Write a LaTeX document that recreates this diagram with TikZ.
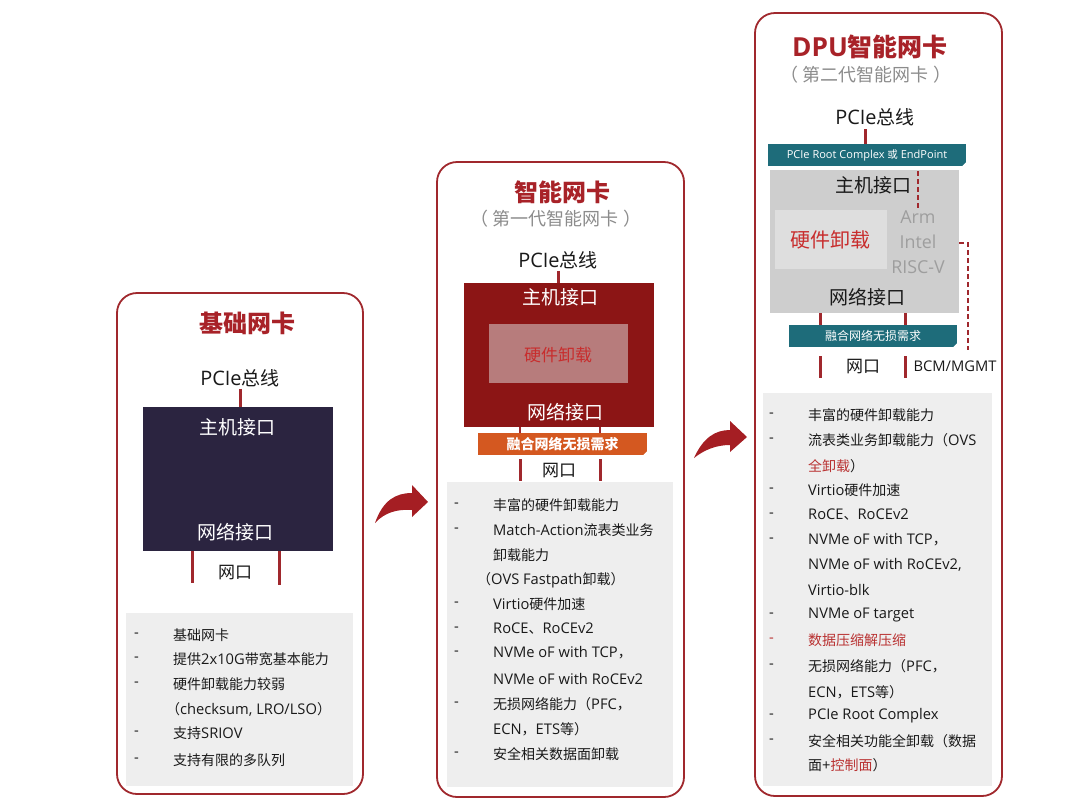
\documentclass[tikz,border=0pt]{standalone}
\usepackage{fontspec}
\setmainfont[Scale=1.05]{Open Sans}
\newfontfamily\cjkfam{Noto Sans CJK SC}
\newfontfamily\latfam[Scale=1.05]{Open Sans}
\XeTeXinterchartokenstate=1
\newXeTeXintercharclass\cjkcls
\newcount\cjkcc
\cjkcc="3000
\loop \XeTeXcharclass\cjkcc=\cjkcls \ifnum\cjkcc<"303F \advance\cjkcc by 1 \repeat
\cjkcc="4E00
\loop \XeTeXcharclass\cjkcc=\cjkcls \ifnum\cjkcc<"9FFF \advance\cjkcc by 1 \repeat
\cjkcc="FF00
\loop \XeTeXcharclass\cjkcc=\cjkcls \ifnum\cjkcc<"FFEF \advance\cjkcc by 1 \repeat
\XeTeXinterchartoks 0 \cjkcls = {\cjkfam}
\XeTeXinterchartoks 4095 \cjkcls = {\cjkfam}
\XeTeXinterchartoks \cjkcls 0 = {\latfam}
\XeTeXinterchartoks \cjkcls 4095 = {\latfam}
\definecolor{frame}{RGB}{160,40,45}
\definecolor{titred}{RGB}{168,34,40}
\definecolor{navy}{RGB}{43,36,64}
\definecolor{maroon}{RGB}{140,21,21}
\definecolor{pinkbox}{RGB}{183,124,124}
\definecolor{offred}{RGB}{200,45,45}
\definecolor{orangeb}{RGB}{212,88,32}
\definecolor{tealb}{RGB}{30,108,122}
\definecolor{chip}{RGB}{206,206,206}
\definecolor{chipin}{RGB}{222,222,222}
\definecolor{listbg}{RGB}{238,238,238}
\definecolor{subgray}{RGB}{140,140,140}
\definecolor{cpugray}{RGB}{158,158,158}
\definecolor{hl}{RGB}{185,50,50}
\definecolor{arrowred}{RGB}{165,30,35}
\definecolor{ink}{RGB}{25,25,25}
\begin{document}
\begin{tikzpicture}[x=1pt,y=-1pt,
 panel/.style={draw=frame,line width=1.8pt,rounded corners=20pt,inner sep=0pt,fill=white},
 rect/.style={inner sep=0pt,draw=none},
 title/.style={text=titred,font=\fontsize{24}{28}\selectfont\bfseries,inner sep=0pt},
 subtitle/.style={text=subgray,font=\fontsize{18}{21}\selectfont,inner sep=0pt},
 bus/.style={text=ink,font=\fontsize{19}{22}\selectfont,inner sep=2pt},
 lbl/.style={font=\fontsize{19}{22}\selectfont,inner sep=0pt},
 tick/.style={draw=frame,line width=3pt},
 dashline/.style={draw=frame,line width=1.6pt,dash pattern=on 5pt off 3pt},
 li/.style={anchor=west,text=ink,font=\fontsize{14}{16}\selectfont,inner sep=0pt},
 dashmark/.style={anchor=west,text=ink,font=\fontsize{14}{16}\selectfont,inner sep=0pt},
 bandtext/.style={text=white,inner sep=0pt}
]
\useasboundingbox[fill=white] (0,0) rectangle (1080,812);

% ---------- panel A ----------
\node[panel,minimum width=246pt,minimum height=501pt] (panA) at (240,543.5) {};
\node[title] (titA) at (247,323) {基础网卡};
\node[bus] (pcieA) at (240,378) {PCIe总线};
\node[rect,fill=navy,minimum width=190pt,minimum height=144pt] (boxA) at (238,479) {};
\node[lbl,text=white] (hostA) at (237,427) {主机接口};
\node[lbl,text=white] (netA) at (235,532) {网络接口};
\draw[tick] (pcieA.south) -- (pcieA.south |- boxA.north);
\coordinate (pAl) at (192,583);
\coordinate (pAr) at (279,585);
\draw[tick] (pAl |- boxA.south) -- (pAl);
\draw[tick] (pAr |- boxA.south) -- (pAr);
\node[lbl,text=ink,font=\fontsize{17}{20}\selectfont] (wkA) at (235,573) {网口};
\node[rect,fill=listbg,minimum width=227pt,minimum height=173pt] (lstA) at (239.5,699.5) {};
\foreach \y [count=\i] in {635,659,684,733,760}
  \node[dashmark] (daA\i) at (134,\y) {-};
\foreach \y/\t [count=\i] in {635/基础网卡,659/提供2x10G带宽基本能力,684/硬件卸载能力较弱,709/{（checksum, LRO/LSO）},733/支持SRIOV,760/支持有限的多队列}
  \node[li] (itA\i) at (\ifnum\i=4 166\else 173\fi,\y) {\t};

% ---------- panel B ----------
\node[panel,minimum width=247pt,minimum height=635pt] (panB) at (560.5,479.5) {};
\node[title] (titB) at (562,192) {智能网卡};
\node[subtitle] (subB) at (556,219) {（ 第一代智能网卡 ）};
\node[bus] (pcieB) at (558,260) {PCIe总线};
\node[rect,fill=maroon,minimum width=190pt,minimum height=144pt] (boxB) at (559,355) {};
\node[rect,fill=pinkbox,minimum width=139pt,minimum height=59pt] (hwB) at (558.5,353.5) {};
\node[lbl,text=offred,font=\fontsize{17}{20}\selectfont] (hwtB) at (558,355) {硬件卸载};
\node[lbl,text=white] (hostB) at (560,297) {主机接口};
\node[lbl,text=white] (netB) at (565,412) {网络接口};
\draw[tick] (pcieB.south) -- (pcieB.south |- boxB.north);
\node[rect,fill=orangeb,minimum width=169pt,minimum height=22pt] (bandB) at (562.5,444) {};
\fill[white] (bandB.south east) -- ++(-4,0) -- ++(4,-4) -- cycle;
\node[bandtext,font=\fontsize{14}{16}\selectfont\bfseries] (bandtB) at (bandB) {融合网络无损需求};
\coordinate (pBl) at (520,481);
\coordinate (pBr) at (600,481);
\draw[tick,line width=1.2pt] (pBl |- boxB.south) -- (pBl |- bandB.north);
\draw[tick,line width=1.2pt] (pBr |- boxB.south) -- (pBr |- bandB.north);
\draw[tick,shorten <=4pt] (pBl |- bandB.south) -- (pBl);
\draw[tick,shorten <=4pt] (pBr |- bandB.south) -- (pBr);
\node[lbl,text=ink,font=\fontsize{17}{20}\selectfont] (wkB) at (559,471) {网口};
\node[rect,fill=listbg,minimum width=226pt,minimum height=305pt] (lstB) at (560,634.5) {};
\foreach \y [count=\i] in {505,530,604,629,653,704,754}
  \node[dashmark] (daB\i) at (454,\y) {-};
\foreach \y/\t [count=\i] in {505/丰富的硬件卸载能力,530/Match-Action流表类业务,555/卸载能力,604/Virtio硬件加速,629/RoCE、RoCEv2,653/NVMe oF with TCP，,679/NVMe oF with RoCEv2,704/无损网络能力（PFC，,729/ECN，ETS等）,754/安全相关数据面卸载}
  \node[li] (itB\i) at (493,\y) {\t};
\node[li] (itBx) at (477,580) {（OVS Fastpath卸载）};

% ---------- panel C ----------
\node[panel,minimum width=247pt,minimum height=783pt] (panC) at (878.5,404.5) {};
\node[title,font=\fontsize{25}{28}\selectfont\bfseries] (titC) at (870,47) {DPU智能网卡};
\node[subtitle] (subC) at (866,75) {（ 第二代智能网卡 ）};
\node[bus] (pcieC) at (875,117) {PCIe总线};
\coordinate (busC) at (865,129);
\coordinate (dTop) at (918,171);
\coordinate (dBot) at (918,210);
\node[rect,fill=tealb,minimum width=198pt,minimum height=22pt] (tealA) at (867,155) {};
\fill[white] (tealA.south east) -- ++(-4,0) -- ++(4,-4) -- cycle;
\node[bandtext,font=\fontsize{10.5}{12}\selectfont] (tealtA) at (tealA) {PCIe Root Complex 或 EndPoint};
\draw[tick] (busC) -- (busC |- tealA.north);
\node[rect,fill=chip,minimum width=189pt,minimum height=143pt] (chipC) at (864.5,241.5) {};
\node[rect,fill=chipin,minimum width=112pt,minimum height=59pt] (hwC) at (831,239.5) {};
\draw[dashline] (dTop) -- (dBot);
\node[lbl,text=offred,font=\fontsize{20}{24}\selectfont] (hwtC) at (830,240) {硬件卸载};
\node[lbl,text=ink] (hostC) at (873,185) {主机接口};
\node[lbl,text=ink] (netC) at (867,297) {网络接口};
\node[lbl,text=cpugray,font=\fontsize{17}{20}\selectfont] (armC) at (918,217) {Arm};
\node[lbl,text=cpugray,font=\fontsize{17}{20}\selectfont] (intelC) at (918,242) {Intel};
\node[lbl,text=cpugray,font=\fontsize{17}{20}\selectfont] (riscC) at (918,267) {RISC-V};
\coordinate (mgmtTurn) at (968,243);
\coordinate (mgmtEnd) at (968,350);
\draw[dashline] (mgmtTurn -| chipC.east) -- (mgmtTurn) -- (mgmtEnd);
\node[rect,fill=tealb,minimum width=168pt,minimum height=22pt] (tealB) at (873,336) {};
\fill[white] (tealB.south east) -- ++(-4,0) -- ++(4,-4) -- cycle;
\node[bandtext,font=\fontsize{12}{14}\selectfont] (tealtB) at (tealB) {融合网络无损需求};
\coordinate (pCl) at (820,378);
\coordinate (pCr) at (905,378);
\draw[tick] (pCl |- chipC.south) -- (pCl |- tealB.north);
\draw[tick] (pCr |- chipC.south) -- (pCr |- tealB.north);
\draw[tick,shorten <=9pt] (pCl |- tealB.south) -- (pCl);
\draw[tick,shorten <=9pt] (pCr |- tealB.south) -- (pCr);
\node[lbl,text=ink,font=\fontsize{17}{20}\selectfont] (wkC) at (863,367) {网口};
\node[lbl,text=ink,font=\fontsize{14}{16}\selectfont] (bcmC) at (955,366) {BCM/MGMT};
\node[rect,fill=listbg,minimum width=229pt,minimum height=393pt] (lstC) at (877.5,589.5) {};
\foreach \y [count=\i] in {415,440,490,515,540,615,666,716,741}
  \node[dashmark] (daC\i) at (769,\y) {-};
\node[dashmark,text=hl] (daCr) at (769,640) {-};
\foreach \y/\t [count=\i] in {415/丰富的硬件卸载能力,440/流表类业务卸载能力（OVS,466/{{\color{hl}全卸载}）},490/Virtio硬件加速,515/RoCE、RoCEv2,540/NVMe oF with TCP，,565/{NVMe oF with RoCEv2,},590/Virtio-blk,615/NVMe oF target,640/{{\color{hl}数据压缩解压缩}},666/无损网络能力（PFC，,692/ECN，ETS等）,716/PCIe Root Complex,741/安全相关功能全卸载（数据,765/{面+{\color{hl}控制面}）}}
  \node[li] (itC\i) at (808,\y) {\t};

% ---------- arrows ----------
\fill[arrowred] (375,523) .. controls (383,500) and (396,493) .. (412,493) -- (412,485) -- (428,502) -- (412,517) -- (412,510) .. controls (398,509) and (385,512) .. (375,523) -- cycle;
\fill[arrowred] (694,458) .. controls (703,438) and (715,430) .. (730,430) -- (730,421) -- (747,437) -- (730,452) -- (730,445) .. controls (716,445) and (704,450) .. (694,458) -- cycle;
\end{tikzpicture}
\end{document}
